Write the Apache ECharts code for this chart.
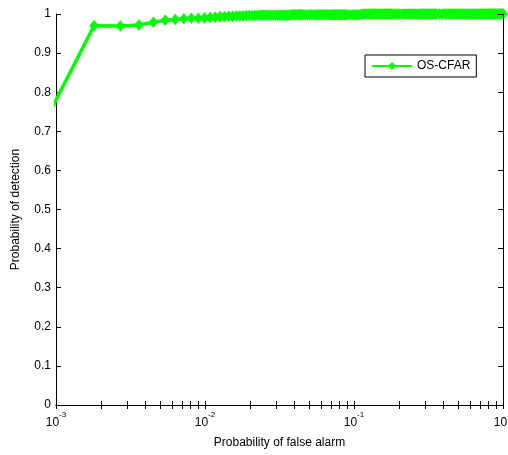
<!DOCTYPE html>
<html>
<head>
<meta charset="utf-8">
<script src="https://cdn.jsdelivr.net/npm/echarts@6/dist/echarts.min.js"></script>
<style>html,body{margin:0;padding:0;background:#fff}#c{width:508px;height:455px}</style>
</head>
<body>
<div id="c"></div>
<script>
var seriesName = 'OS-CFAR';
var pfa = [0.0009, 0.0018, 0.0027, 0.0036, 0.0045, 0.0054, 0.0063, 0.0072, 0.0081, 0.009,
  0.0099, 0.0108, 0.0117, 0.0126, 0.0135, 0.0144, 0.0153, 0.0162, 0.0171, 0.018,
  0.0189, 0.0198,
  0.0207, 0.0216, 0.0225, 0.0234, 0.0243, 0.0252, 0.0261, 0.027, 0.0279, 0.0288, 0.0297,
  0.0306, 0.0315, 0.0324, 0.0333, 0.0342, 0.0351, 0.036, 0.0369, 0.0378, 0.0387, 0.0396,
  0.0405, 0.0414, 0.0423, 0.0432, 0.0441, 0.045,
  0.0468, 0.0486, 0.0504, 0.0522, 0.054, 0.0558, 0.0576, 0.0594, 0.0612, 0.063, 0.0648,
  0.0666, 0.0684, 0.0702, 0.072, 0.0738, 0.0756, 0.0774, 0.0792, 0.081, 0.0828, 0.0846,
  0.0864, 0.0882, 0.09,
  0.0936, 0.0972, 0.1008, 0.1044, 0.108, 0.1116, 0.1152, 0.1188, 0.1224, 0.126, 0.1296,
  0.1332, 0.1368, 0.1404, 0.144, 0.1476, 0.1512, 0.1548, 0.1584, 0.162, 0.1656, 0.1692,
  0.1728, 0.1764, 0.18,
  0.1872, 0.1944, 0.2016, 0.2088, 0.216, 0.2232, 0.2304, 0.2376, 0.2448, 0.252, 0.2592,
  0.2664, 0.2736, 0.2808, 0.288, 0.2952, 0.3024, 0.3096, 0.3168, 0.324, 0.3312, 0.3384,
  0.3456, 0.3528, 0.36,
  0.3744, 0.3888, 0.4032, 0.4176, 0.432, 0.4464, 0.4608, 0.4752, 0.4896, 0.504, 0.5184,
  0.5328, 0.5472, 0.5616, 0.576, 0.5904, 0.6048, 0.6192, 0.6336, 0.648, 0.6624, 0.6768,
  0.6912, 0.7056, 0.72,
  0.7344, 0.7488, 0.7632, 0.7776, 0.792, 0.8064, 0.8208, 0.8352, 0.8496, 0.864, 0.8784,
  0.8928, 0.9072, 0.9216, 0.936, 0.9504, 0.9648, 0.9792, 0.9936, 1.0];
var pd = [0.746, 0.970, 0.969, 0.972, 0.979, 0.984, 0.986, 0.988, 0.989, 0.989,
  0.990, 0.991, 0.992, 0.993, 0.993, 0.994, 0.994, 0.995, 0.995, 0.995,
  0.996, 0.996,
  0.996, 0.996, 0.997, 0.997, 0.997, 0.997, 0.997, 0.997, 0.997, 0.997, 0.997,
  0.997, 0.997, 0.997, 0.997, 0.997, 0.997, 0.997, 0.997, 0.998, 0.998, 0.998,
  0.998, 0.998, 0.998, 0.998, 0.998, 0.998,
  0.998, 0.998, 0.998, 0.998, 0.998, 0.998, 0.998, 0.998, 0.998, 0.998, 0.998,
  0.998, 0.998, 0.998, 0.998, 0.998, 0.998, 0.998, 0.998, 0.998, 0.998, 0.998,
  0.998, 0.998, 0.998,
  0.998, 0.998, 0.998, 0.998, 0.998, 0.999, 1.0, 1.0, 1.0, 1.0, 1.0,
  1.0, 1.0, 1.0, 1.0, 1.0, 1.0, 1.0, 1.0, 1.0, 1.0, 1.0,
  1.0, 1.0, 1.0,
  1.0, 1.0, 1.0, 1.0, 1.0, 1.0, 1.0, 1.0, 1.0, 1.0, 1.0,
  1.0, 1.0, 1.0, 1.0, 1.0, 1.0, 1.0, 1.0, 1.0, 1.0, 1.0,
  1.0, 1.0, 1.0,
  1.0, 1.0, 1.0, 1.0, 1.0, 1.0, 1.0, 1.0, 1.0, 1.0, 1.0,
  1.0, 1.0, 1.0, 1.0, 1.0, 1.0, 1.0, 1.0, 1.0, 1.0, 1.0,
  1.0, 1.0, 1.0,
  1.0, 1.0, 1.0, 1.0, 1.0, 1.0, 1.0, 1.0, 1.0, 1.0, 1.0,
  1.0, 1.0, 1.0, 1.0, 1.0, 1.0, 1.0, 1.0, 1.0];
var xTickValues = [0.001, 0.01, 0.1, 1];
var xTickLabels = ['10^-3', '10^-2', '10^-1', '10'];
var xMinorTicks = [0.002, 0.003, 0.004, 0.005, 0.006, 0.007, 0.008, 0.009,
  0.02, 0.03, 0.04, 0.05, 0.06, 0.07, 0.08, 0.09,
  0.2, 0.3, 0.4, 0.5, 0.6, 0.7, 0.8, 0.9];
var yTickLabels = ['0', '0.1', '0.2', '0.3', '0.4', '0.5', '0.6', '0.7', '0.8', '0.9', '1'];
var xAxisTitle = 'Probability of false alarm';
var yAxisTitle = 'Probability of detection';

var FONT = '"Liberation Sans", Arial, sans-serif';
var allXTicks = xTickValues.concat(xMinorTicks);
var data = pfa.map(function (v, i) { return [v, pd[i]]; });

function fmtX(v) {
  var idx = -1;
  for (var i = 0; i < xTickValues.length; i++) {
    if (Math.abs(Math.log10(v) - Math.log10(xTickValues[i])) < 1e-6) idx = i;
  }
  if (idx < 0) return '';
  var parts = xTickLabels[idx].split('^');
  if (parts.length > 1) return '{b|' + parts[0] + '}{s|' + parts[1] + '}';
  return idx === xTickValues.length - 1 ? '{e|' + parts[0] + '}' : '{b|' + parts[0] + '}';
}

var chart = echarts.init(document.getElementById('c'), null, {renderer: 'canvas'});
chart.setOption({
  backgroundColor: '#fff',
  animation: false,
  textStyle: {fontFamily: FONT, color: '#000'},
  grid: {left: 56, right: 5, top: 14, bottom: 50, containLabel: false, outerBoundsMode: 'none'},
  legend: {
    left: 365, top: 55,
    data: [seriesName],
    backgroundColor: '#fff',
    borderColor: '#000', borderWidth: 1, borderRadius: 0,
    padding: [5, 6, 5, 6],
    itemWidth: 40, itemHeight: 10, itemGap: 5,
    textStyle: {fontFamily: FONT, fontSize: 12, color: '#000'}
  },
  xAxis: [{
    type: 'log', logBase: 10, min: 0.001, max: 1,
    position: 'bottom',
    name: xAxisTitle, nameLocation: 'middle', nameGap: 32,
    nameTextStyle: {fontFamily: FONT, fontSize: 12, color: '#000'},
    axisLine: {show: true, lineStyle: {color: '#000', width: 1}},
    axisTick: {show: true, inside: true, length: 4, customValues: allXTicks, lineStyle: {color: '#000'}},
    axisLabel: {
      show: true, margin: 6, customValues: xTickValues, formatter: fmtX,
      rich: {
        b: {fontFamily: FONT, fontSize: 12, color: '#000', padding: [6, 0, 0, 0]},
        e: {fontFamily: FONT, fontSize: 12, color: '#000', padding: [6, 5, 0, 0]},
        s: {fontFamily: FONT, fontSize: 8, color: '#000', verticalAlign: 'top', padding: [0, 0, 6, 0]}
      }
    },
    splitLine: {show: false},
    minorTick: {show: false}
  }, {
    type: 'log', logBase: 10, min: 0.001, max: 1,
    position: 'top', z: 10,
    axisLine: {show: true, lineStyle: {color: '#000', width: 1}},
    axisTick: {show: true, inside: true, length: 4, customValues: allXTicks, lineStyle: {color: '#000'}},
    axisLabel: {show: false},
    splitLine: {show: false}
  }],
  yAxis: [{
    type: 'value', min: 0, max: 1, interval: 0.1,
    position: 'left',
    name: yAxisTitle, nameLocation: 'middle', nameGap: 34, nameRotate: 90,
    nameTextStyle: {fontFamily: FONT, fontSize: 12, color: '#000'},
    axisLine: {show: true, lineStyle: {color: '#000', width: 1}},
    axisTick: {show: true, inside: true, length: 5, lineStyle: {color: '#000'}},
    axisLabel: {
      show: true, margin: 5, fontFamily: FONT, fontSize: 12, color: '#000',
      formatter: function (v) { return yTickLabels[Math.round(v * 10)]; }
    },
    splitLine: {show: false}
  }, {
    type: 'value', min: 0, max: 1, interval: 0.1,
    position: 'right', z: 10,
    axisLine: {show: true, lineStyle: {color: '#000', width: 1}},
    axisTick: {show: true, inside: true, length: 5, lineStyle: {color: '#000'}},
    axisLabel: {show: false},
    splitLine: {show: false}
  }],
  series: [{
    name: seriesName,
    type: 'line',
    xAxisIndex: 0, yAxisIndex: 0,
    data: data,
    clip: true,
    symbol: 'diamond',
    symbolSize: [8, 10],
    showAllSymbol: true,
    color: '#00ff00',
    lineStyle: {color: '#00ff00', width: 3.5},
    itemStyle: {color: '#00ff00', borderColor: '#00ff00'},
    z: 3
  }]
});
</script>
</body>
</html>
